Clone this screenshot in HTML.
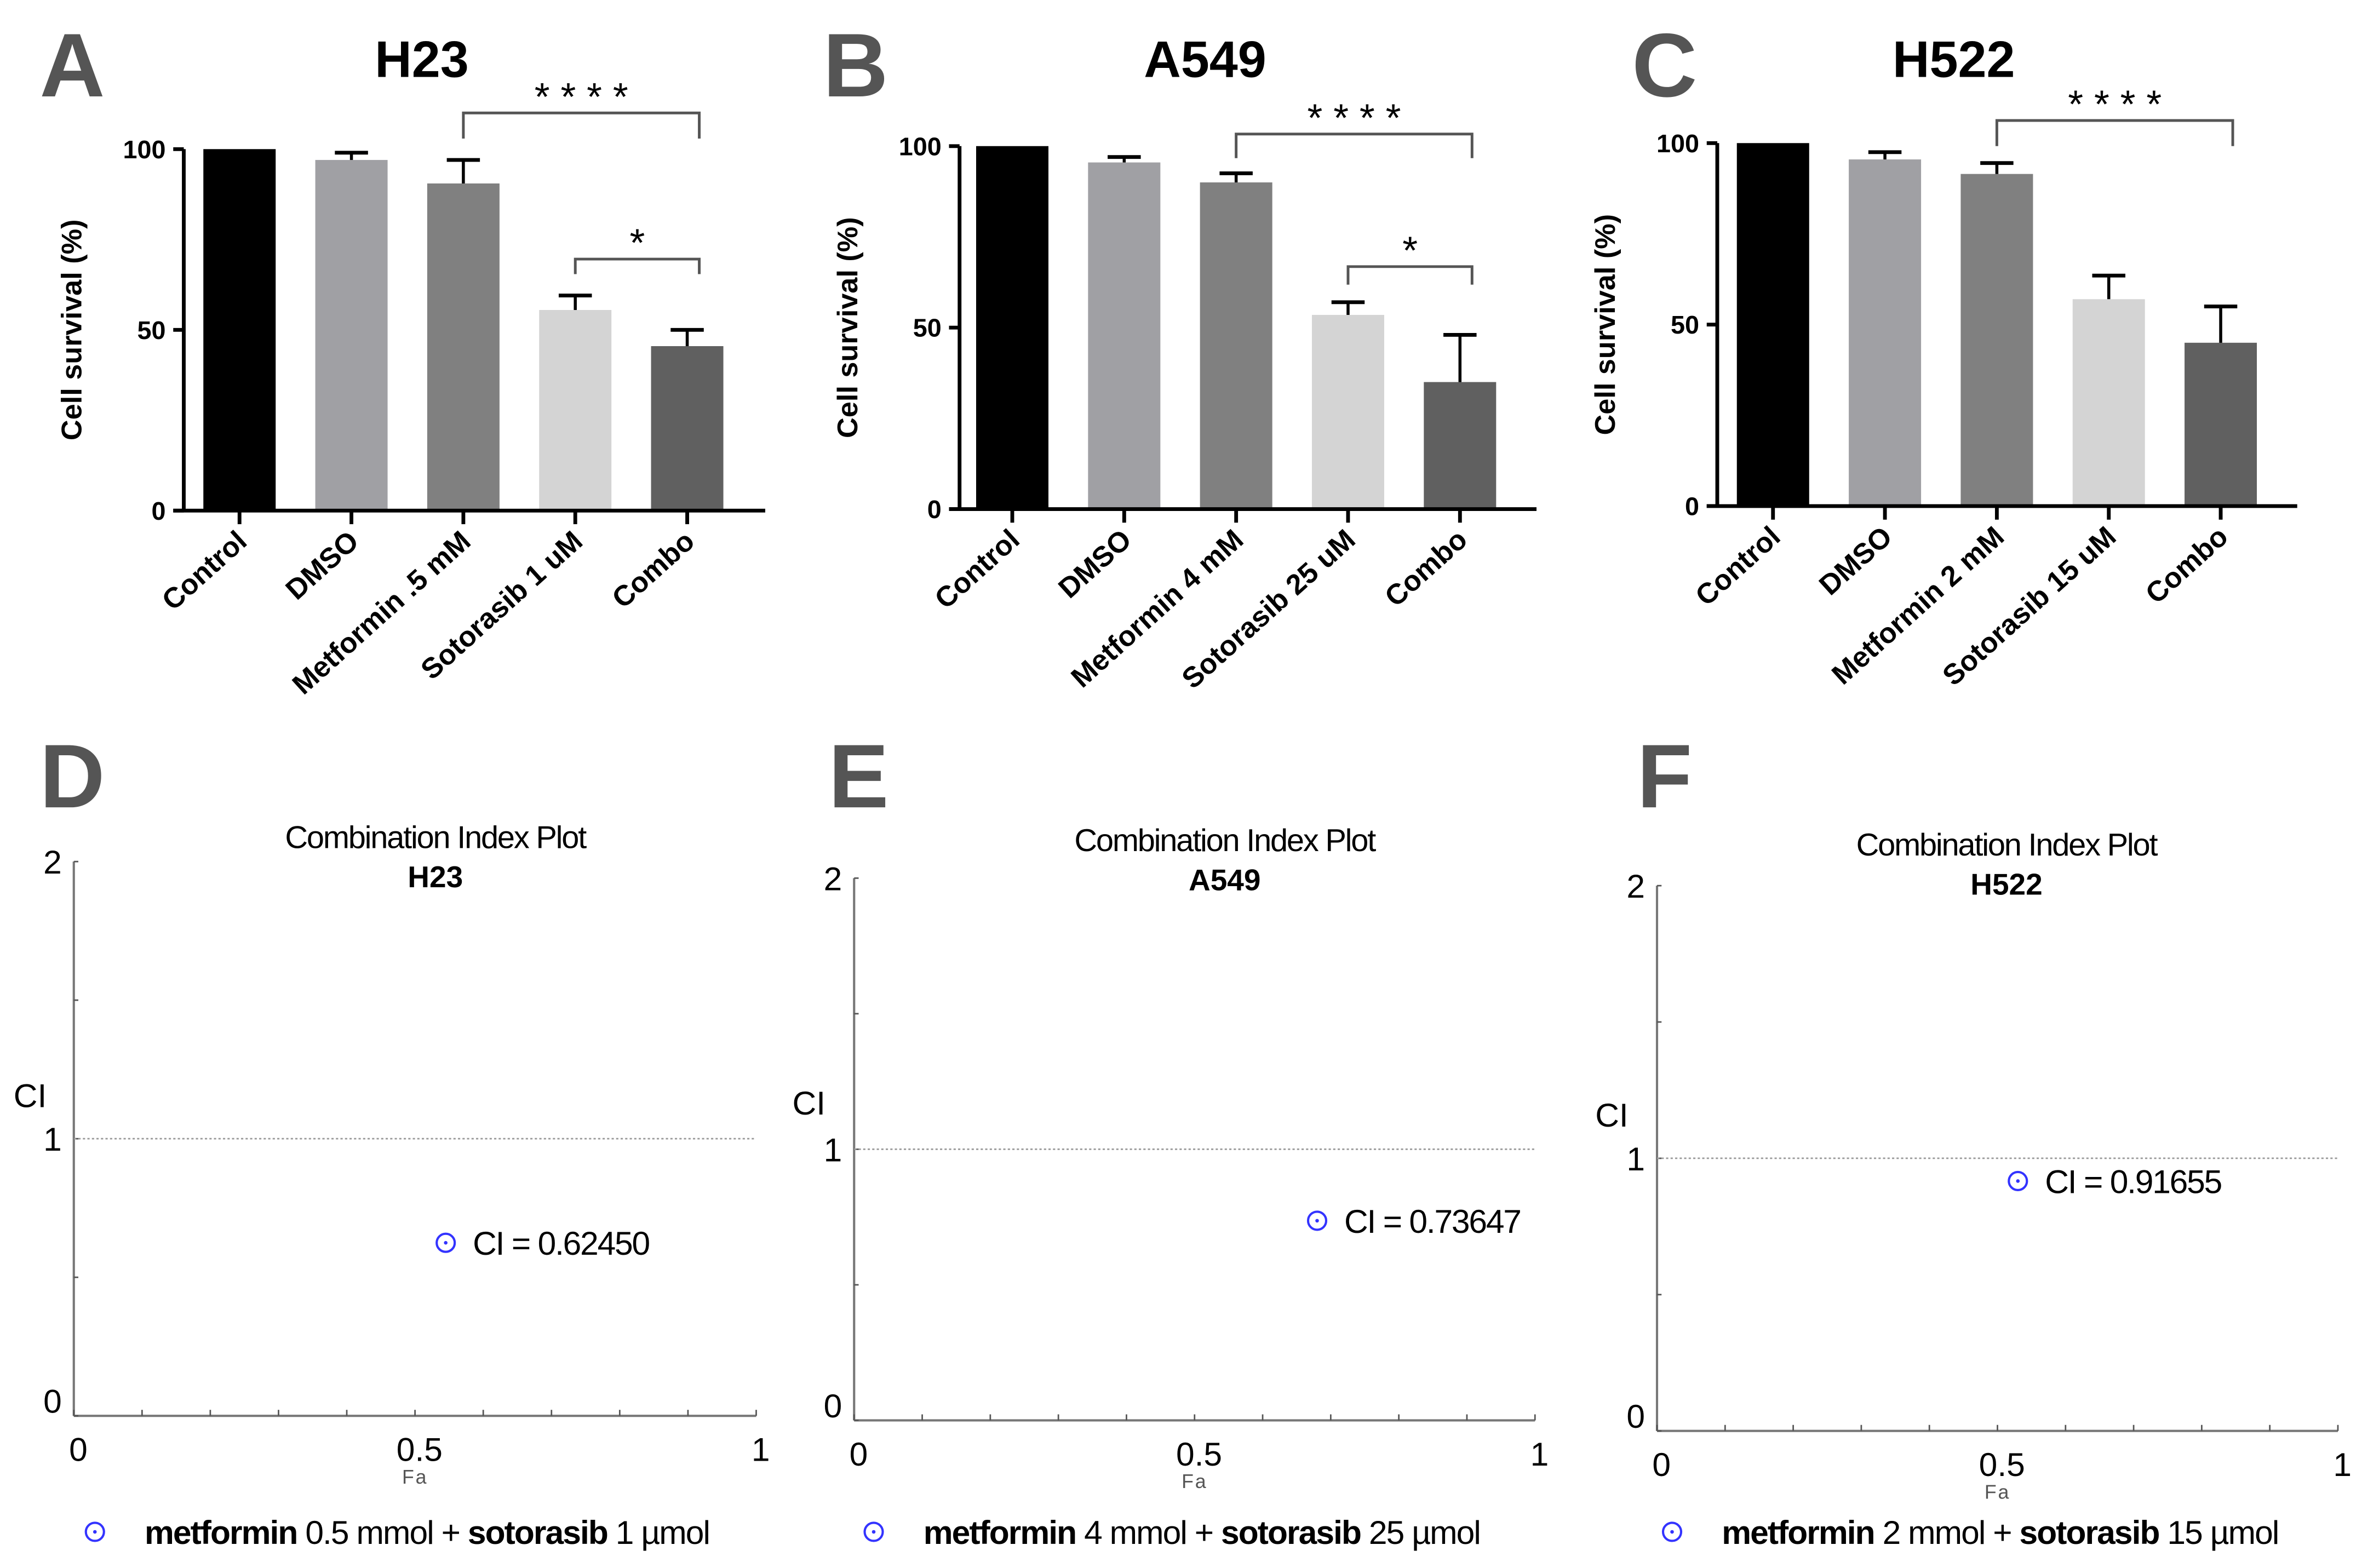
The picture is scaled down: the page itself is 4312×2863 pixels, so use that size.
<!DOCTYPE html>
<html><head><meta charset="utf-8"><style>
html,body{margin:0;padding:0;background:#fff;}
svg{display:block;}
text{font-family:"Liberation Sans",sans-serif;}
</style></head><body>
<svg id="fig" width="4312" height="2863" viewBox="0 0 1568 1041" preserveAspectRatio="none" xmlns="http://www.w3.org/2000/svg"></svg>
<script>
// ---- Bar chart data ----
const catsA = ["Control","DMSO","Metformin .5 mM","Sotorasib 1 uM","Combo"];
const catsB = ["Control","DMSO","Metformin 4 mM","Sotorasib 25 uM","Combo"];
const catsC = ["Control","DMSO","Metformin 2 mM","Sotorasib 15 uM","Combo"];
const valsA = [100, 97, 90.5, 55.5, 45.5];
const errsA = [0, 2, 6.5, 4, 4.5];
const valsB = [100, 95.5, 90, 53.5, 35];
const errsB = [0, 1.5, 2.5, 3.5, 13];
const valsC = [100, 95.5, 91.5, 57, 45];
const errsC = [0, 2, 3, 6.5, 10];
const yTicks = [0, 50, 100];
const barColors = ["#000000","#a0a0a4","#808080","#d4d4d4","#606060"];
// ---- CI plot data ----
const faVals = [0.545, 0.68, 0.53];
const ciVals = [0.62450, 0.73647, 0.91655];
const ciLabels = ["CI = 0.62450","CI = 0.73647","CI = 0.91655"];
const xTicksCI = [0, 0.5, 1];
const yTicksCI = [0, 1, 2];

const svg = document.getElementById('fig');
const NS = "http://www.w3.org/2000/svg";
function mk(tag, attrs, parent, txt){
  const e = document.createElementNS(NS, tag);
  for (const k in attrs) e.setAttribute(k, attrs[k]);
  if (txt !== undefined) e.textContent = txt;
  (parent||svg).appendChild(e);
  return e;
}

const barPanels = [
 {letter:"A", lx:48, title:"H23", tx:280, ax:122, y100:99, y0:339, xend:508, b0:135, cats:catsA, vals:valsA, errs:errsA,
  sig:[{i:2,j:4,y:75,d:92,t:"* * * *"},{i:3,j:4,y:172,d:182,t:"*"}]},
 {letter:"B", lx:568, title:"A549", tx:800, ax:637, y100:97, y0:338, xend:1020, b0:648, cats:catsB, vals:valsB, errs:errsB,
  sig:[{i:2,j:4,y:89,d:105,t:"* * * *"},{i:3,j:4,y:177,d:189,t:"*"}]},
 {letter:"C", lx:1105, title:"H522", tx:1297, ax:1140, y100:95, y0:336, xend:1525, b0:1153, cats:catsC, vals:valsC, errs:errsC,
  sig:[{i:2,j:4,y:80,d:97,t:"* * * *"}]}
];

barPanels.forEach((p, pi) => {
  const g = mk('g', {});
  
  
  const L = mk('text', {x:p.lx, y:64, 'font-size':60, 'font-weight':'bold', fill:'#555', 'text-anchor':'middle'}, g, p.letter);
  
  
  const T = mk('text', {x:p.tx, y:51, 'font-size':34, 'font-weight':'bold', fill:'#000', 'text-anchor':'middle'}, g, p.title);
  
  
  const ys = v => p.y0 - (v/100)*(p.y0-p.y100);
  const bw = 48, step = 74.3;
  const xc = i => p.b0 + bw/2 + i*step;
  p.vals.forEach((v, i) => {
    const r = mk('rect', {x:xc(i)-bw/2, y:ys(v), width:bw, height:p.y0-ys(v), fill:barColors[i]}, g);
    
    
    if (p.errs[i] > 0) {
      const top = ys(v + p.errs[i]);
      mk('line', {x1:xc(i), x2:xc(i), y1:ys(v), y2:top, stroke:'#000', 'stroke-width':2}, g);
      mk('line', {x1:xc(i)-11, x2:xc(i)+11, y1:top, y2:top, stroke:'#000', 'stroke-width':2.5}, g);
    }
    mk('line', {x1:xc(i), x2:xc(i), y1:p.y0, y2:p.y0+9, stroke:'#000', 'stroke-width':2.5}, g);
    const t = mk('text', {x:0, y:0, 'font-size':19, 'font-weight':'bold', fill:'#000', 'text-anchor':'end',
      transform:`translate(${xc(i)+6},${p.y0+22}) rotate(-42)`}, g, p.cats[i]);
    
    
  });
  mk('line', {x1:p.ax, x2:p.ax, y1:p.y100, y2:p.y0+1, stroke:'#000', 'stroke-width':2.5}, g);
  mk('line', {x1:p.ax-7, x2:p.xend, y1:p.y0, y2:p.y0, stroke:'#000', 'stroke-width':2.5}, g);
  yTicks.forEach(v => {
    mk('line', {x1:p.ax-7, x2:p.ax, y1:ys(v), y2:ys(v), stroke:'#000', 'stroke-width':2.5}, g);
    const t = mk('text', {x:p.ax-12, y:ys(v)+6, 'font-size':17, 'font-weight':'bold', fill:'#000', 'text-anchor':'end'}, g, String(v));
    
    
  });
  const yt = mk('text', {x:0, y:0, 'font-size':19, 'font-weight':'bold', fill:'#000', 'text-anchor':'middle',
    transform:`translate(${p.ax-68},${(p.y0+p.y100)/2}) rotate(-90)`}, g, "Cell survival (%)");
  
  
  p.sig.forEach(s => {
    const x1 = xc(s.i), x2 = xc(s.j) + 8;
    const br = mk('path', {d:`M${x1} ${s.d} V${s.y} H${x2} V${s.d}`, fill:'none', stroke:'#555', 'stroke-width':1.8}, g);
    
    
    mk('text', {x:(x1+x2)/2, y:s.y-2, 'font-size':26, fill:'#000', 'text-anchor':'middle'}, g, s.t);
  });
});

const ciPanels = [
 {letter:"D", lx:48, title:"H23", ax:49, yTop:572, y0:940, xend:502, tcx:289, ty:556, ciy:727, cix:20, legX:63, legBold1:"metformin", legMid:" 0.5 mmol + ", legBold2:"sotorasib", legEnd:" 1 µmol"},
 {letter:"E", lx:570, title:"A549", ax:567, yTop:583, y0:943, xend:1019, tcx:813, ty:558, ciy:732, cix:537, legX:580, legBold1:"metformin", legMid:" 4 mmol + ", legBold2:"sotorasib", legEnd:" 25 µmol"},
 {letter:"F", lx:1105, title:"H522", ax:1100, yTop:588, y0:950, xend:1552, tcx:1332, ty:561, ciy:740, cix:1070, legX:1110, legBold1:"metformin", legMid:" 2 mmol + ", legBold2:"sotorasib", legEnd:" 15 µmol"}
];

ciPanels.forEach((p, pi) => {
  const g = mk('g', {});
  
  
  const L = mk('text', {x:p.lx, y:536, 'font-size':60, 'font-weight':'bold', fill:'#555', 'text-anchor':'middle'}, g, p.letter);
  
  
  const t1 = mk('text', {x:p.tcx, y:p.ty+7, 'font-size':21, fill:'#000', 'text-anchor':'middle', 'letter-spacing':'-0.8'}, g, "Combination Index Plot");
  
  
  const t2 = mk('text', {x:p.tcx, y:p.ty+33, 'font-size':20, 'font-weight':'bold', fill:'#000', 'text-anchor':'middle'}, g, p.title);
  
  
  const xs = v => p.ax + v*(p.xend-p.ax);
  const ys = v => p.y0 - (v/2)*(p.y0-p.yTop);
  mk('line', {x1:p.ax, x2:p.ax, y1:p.yTop, y2:p.y0, stroke:'#777', 'stroke-width':1.5}, g);
  mk('line', {x1:p.ax, x2:p.xend, y1:p.y0, y2:p.y0, stroke:'#777', 'stroke-width':1.5}, g);
  for (let k = 0; k <= 10; k++) mk('line', {x1:xs(k/10), x2:xs(k/10), y1:p.y0, y2:p.y0-4, stroke:'#555', 'stroke-width':1}, g);
  for (let k = 0; k <= 4; k++) mk('line', {x1:p.ax, x2:p.ax+3, y1:ys(k/2), y2:ys(k/2), stroke:'#555', 'stroke-width':1}, g);
  xTicksCI.forEach(v => {
    const t = mk('text', {x:xs(v)+3, y:p.y0+30, 'font-size':22, fill:'#000', 'text-anchor':'middle'}, g, String(v));
    
    
  });
  yTicksCI.forEach(v => {
    const t = mk('text', {x:p.ax-8, y:ys(v)+(v===0?-2:8), 'font-size':22, fill:'#000', 'text-anchor':'end'}, g, String(v));
    
    
  });
  const yl = mk('text', {x:p.cix, y:p.ciy+8, 'font-size':22, fill:'#000', 'text-anchor':'middle'}, g, "CI");
  
  
  const xl = mk('text', {x:xs(0.5), y:p.y0+45, 'font-size':13, fill:'#555', 'text-anchor':'middle', 'letter-spacing':'1'}, g, "Fa");
  
  
  const ref = mk('line', {x1:p.ax, x2:p.xend, y1:ys(1), y2:ys(1), stroke:'#999', 'stroke-width':1, 'stroke-dasharray':'1.5,1.5'}, g);
  
  
  const px = xs(faVals[pi]), py = ys(ciVals[pi]);
  const c = mk('circle', {cx:px, cy:py, r:6, fill:'none', stroke:'#3333ff', 'stroke-width':1.5}, g);
  
  
  mk('circle', {cx:px, cy:py, r:1.2, fill:'#3333ff'}, g);
  const lab = mk('text', {x:px+18, y:py+8, 'font-size':22, fill:'#000', 'letter-spacing':'-0.8'}, g, ciLabels[pi]);
  
  
  const lc = mk('circle', {cx:p.legX, cy:1017, r:6, fill:'none', stroke:'#3333ff', 'stroke-width':1.5}, g);
  
  
  mk('circle', {cx:p.legX, cy:1017, r:1.2, fill:'#3333ff'}, g);
  const lt = mk('text', {x:p.legX+33, y:1025, 'font-size':22, fill:'#000', 'letter-spacing':'-0.7'}, g);
  
  
  mk('tspan', {'font-weight':'bold'}, lt, p.legBold1);
  mk('tspan', {}, lt, p.legMid);
  mk('tspan', {'font-weight':'bold'}, lt, p.legBold2);
  mk('tspan', {}, lt, p.legEnd);
});
</script>
</body></html>
